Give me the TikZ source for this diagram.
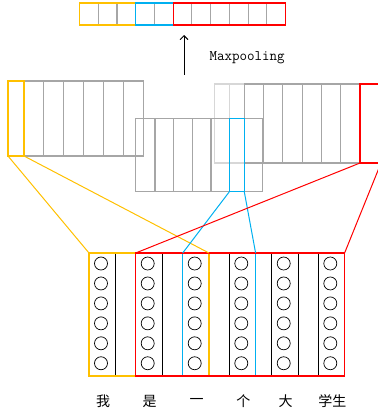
\documentclass[tikz,border=0pt]{standalone}
\usepackage{fontspec}
\newfontfamily\zhfont{Noto Sans CJK SC}
\usepackage{tikz}
\usetikzlibrary{positioning, arrows.meta, fit}
\definecolor{Gold}{RGB}{255,192,0}
\definecolor{Sky}{RGB}{0,176,240}
\definecolor{Red}{RGB}{255,0,0}
\definecolor{Grey}{RGB}{166,166,166}
\definecolor{LightGrey}{RGB}{215,215,215}
\tikzstyle{cell}=[%
      rectangle, draw=Grey, line width=1.1pt, fill=none,
      inner sep=0pt, outer sep=0pt, anchor=north west
]
\tikzstyle{group}=[%
      rectangle, line width=1.2pt, fill=none, inner sep=0pt, outer sep=0pt
]
\tikzstyle{column}=[%
      rectangle, draw=black, line width=0.8pt, inner sep=0pt, outer sep=0pt,
      minimum width=26.3pt, minimum height=123pt, anchor=north west
]
\tikzstyle{neuron}=[%
      circle, draw=black, line width=0.7pt, minimum size=13pt, inner sep=0pt
]
\tikzstyle{word}=[%
      font=\zhfont\fontsize{14}{16}\selectfont, inner sep=0pt
]

\begin{document}
\begin{tikzpicture}[x=1pt, y=-1pt]
    \useasboundingbox (0,0) rectangle (377,414);

    % pooled vector
    \foreach \i in {0,...,10}
      \node[cell, minimum width=18.73pt, minimum height=22pt] (v\i) at ({79.5+18.73*\i},3) {};
    \node[group, draw=Gold, fit=(v0)(v2)] (vy) {};
    \node[group, draw=Sky, fit=(v3)(v4)] (vb) {};
    \node[group, draw=Red, fit=(v5)(v10)] (vr) {};

    \coordinate (a0) at (184,75);
    \coordinate (a1) at (184,35);
    \draw[line width=0.9pt, -{Straight Barb[length=4pt,width=8pt]}] (a0) -- (a1);
    \node[font=\ttfamily\fontsize{14.6}{16}\selectfont, anchor=west] (mp) at (206,58) {Maxpooling};

    % feature maps
    \foreach \i in {1,...,6}
      \node[cell, minimum width=19.88pt, minimum height=75pt] (l\i) at ({24+19.88*(\i-1)},81) {};
    \node[cell, draw=Gold, minimum width=16pt, minimum height=75pt] (l0) at (8,81) {};

    \node[cell, draw=LightGrey, minimum width=15pt, minimum height=79pt] (r1) at (214.3,84) {};
    \node[cell, draw=LightGrey, minimum width=15pt, minimum height=79pt] (r2) at (229.3,84) {};
    \foreach \i in {3,...,8}
      \node[cell, minimum width=19.28pt, minimum height=79pt] (r\i) at ({244.3+19.28*(\i-3)},84) {};
    \node[cell, draw=Red, minimum width=21pt, minimum height=79pt] (r9) at (360,84) {};

    \foreach \x/\w [count=\i] in {135.7/19.3, 155/18.3, 173.3/19, 192.3/18.7, 211/18.3, 229.3/15, 244.3/18.4}
      \node[cell, minimum width=\w pt, minimum height=73.5pt] (m\i) at (\x,118.3) {};
    \node[cell, draw=Sky, minimum width=15pt, minimum height=73.5pt] (mb) at (229.3,118.3) {};

    % sentence
    \foreach \x/\t [count=\i] in {89/我, 135.7/是, 182.7/一, 229.3/个, 271.7/大, 318.3/学生} {
      \node[column] (c\i) at (\x,253) {};
      \foreach \j in {1,...,6}
        \node[neuron] (c\i-\j) at ({\x+12},{263.5+19.95*(\j-1)}) {};
      \node[word] (w\i) at ({\x+14},401) {\t};
    }
    \node[group, draw=Gold, fit=(c1)(c3)] (sy) {};
    \node[group, draw=Sky, fit=(c3)(c4)] (sb) {};
    \node[group, draw=Red, fit=(c2)(c6)] (sr) {};

    \draw[Gold, line width=1pt] (l0.south west) -- (sy.north west)
                                (l0.south east) -- (sy.north east);
    \draw[Sky, line width=1pt] (mb.south west) -- (sb.north west)
                               (mb.south east) -- (sb.north east);
    \draw[Red, line width=1pt] (r9.south west) -- (sr.north west)
                               (r9.south east) -- (sr.north east);

  \end{tikzpicture}
\end{document}
